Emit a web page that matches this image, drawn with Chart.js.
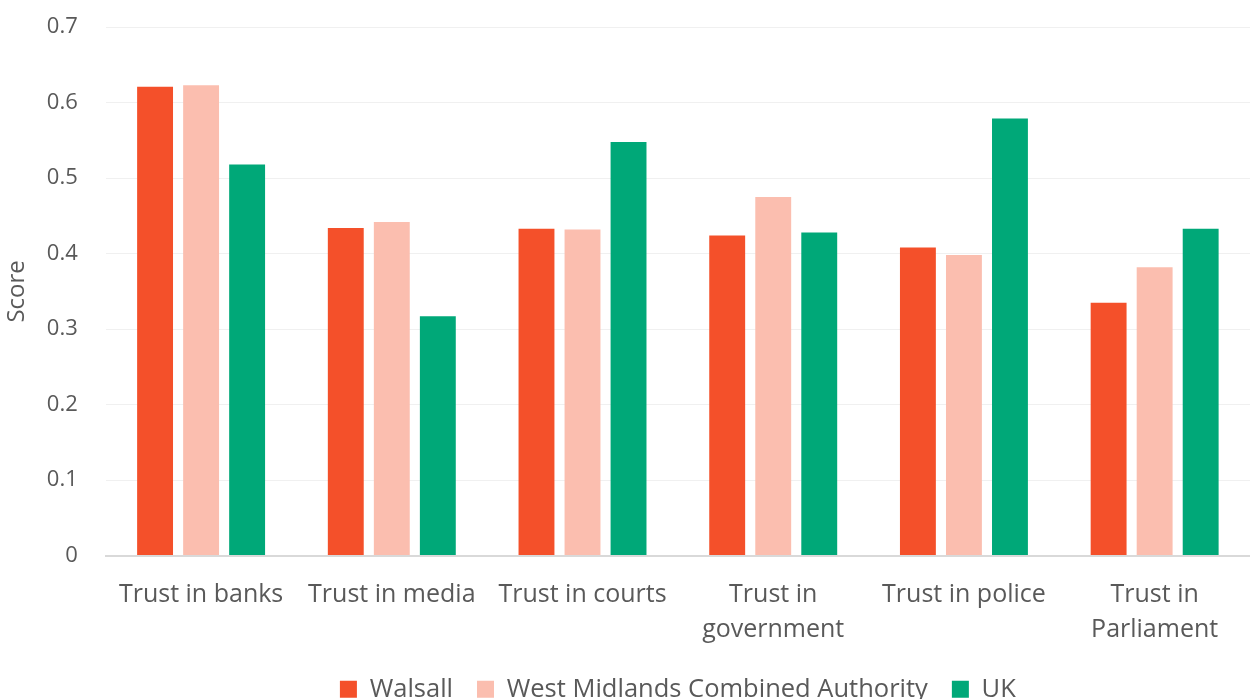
<!DOCTYPE html>
<html>
<head>
<meta charset="utf-8">
<script src="https://cdn.jsdelivr.net/npm/chart.js@4/dist/chart.umd.min.js"></script>
<style>
  html, body { margin: 0; padding: 0; background: #fff; }
  #wrap { width: 1250px; height: 699px; position: relative; }
</style>
</head>
<body>
<div id="wrap"><canvas id="trustChart"></canvas></div>
<script>
const categories = ["Trust in banks", "Trust in media", "Trust in courts", ["Trust in", "government"], "Trust in police", ["Trust in", "Parliament"]];
const walsall = [0.621, 0.434, 0.433, 0.424, 0.408, 0.335];
const wmca = [0.623, 0.442, 0.432, 0.475, 0.398, 0.382];
const uk = [0.518, 0.317, 0.548, 0.428, 0.579, 0.433];

const textColor = "#595959";
const fontFamily = "'Open Sans', sans-serif";

const ctx = document.getElementById("trustChart").getContext("2d");
new Chart(ctx, {
    type: "bar",
    data: {
        labels: categories,
        datasets: [
            { label: "Walsall", data: walsall, backgroundColor: "#F4502A" },
            { label: "West Midlands Combined Authority", data: wmca, backgroundColor: "#FBBEAF" },
            { label: "UK", data: uk, backgroundColor: "#00A878" },
        ],
    },
    options: {
        responsive: true,
        maintainAspectRatio: false,
        animation: false,
        categoryPercentage: 0.724,
        barPercentage: 0.78,
        layout: { padding: { left: 3, right: 0, top: 0, bottom: -13 } },
        scales: {
            x: {
                grid: { display: false },
                border: { color: "#d9d9d9", width: 2 },
                ticks: {
                    color: textColor,
                    font: { family: fontFamily, size: 25, lineHeight: 1.4 },
                    maxRotation: 0,
                    padding: 14,
                },
                afterFit: (axis) => { axis.height -= 9; },
            },
            y: {
                min: 0,
                max: 0.7,
                ticks: {
                    stepSize: 0.1,
                    color: textColor,
                    font: { family: fontFamily, size: 22 },
                    padding: 14,
                },
                afterFit: (axis) => { axis.width += 1; },
                // invisible tick marks push the labels away from the plot
                grid: { color: "#f0f0f0", drawTicks: true, tickLength: 14, tickColor: "rgba(0,0,0,0)" },
                border: { display: false },
                title: {
                    display: true,
                    text: "Score",
                    color: textColor,
                    font: { family: fontFamily, size: 24 },
                    padding: 0,
                },
            },
        },
        plugins: {
            legend: {
                position: "bottom",
                fullSize: false,
                labels: {
                    color: textColor,
                    font: { family: fontFamily, size: 25.5 },
                    boxWidth: 17,
                    boxHeight: 17,
                    padding: 24,
                },
            },
            tooltip: { enabled: false },
        },
    },
});
</script>
</body>
</html>
